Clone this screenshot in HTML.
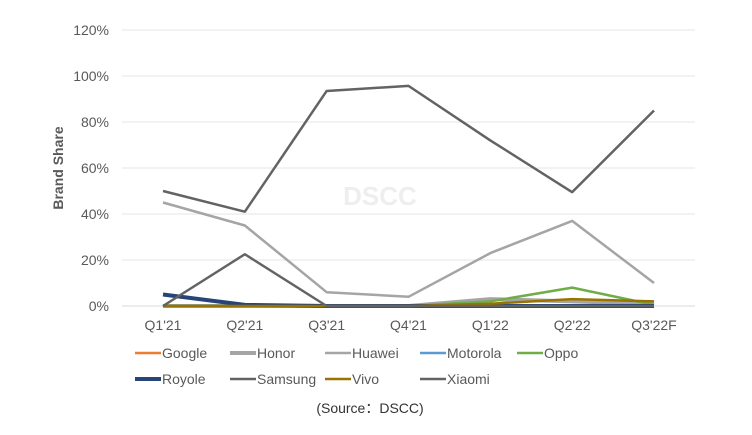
<!DOCTYPE html>
<html><head><meta charset="utf-8"><style>
body{margin:0;background:#fff;width:752px;height:430px;overflow:hidden;font-family:"Liberation Sans","Noto Sans CJK SC",sans-serif}
</style></head><body>
<svg width="752" height="430" xmlns="http://www.w3.org/2000/svg">
<text x="380" y="205" font-size="26" font-weight="bold" fill="#eeeeee" text-anchor="middle">DSCC</text>
<g id="grid"></g><g id="axes"></g><g id="lines"></g><g id="legend"></g>
<text transform="translate(63,168) rotate(-90)" font-size="14" font-weight="bold" fill="#595959" text-anchor="middle">Brand Share</text>
<text x="370" y="413" font-size="14" fill="#333" text-anchor="middle" font-family="Liberation Sans,'Noto Sans CJK SC',sans-serif">(Source：DSCC)</text>
</svg>
<script>
const categories=["Q1'21","Q2'21","Q3'21","Q4'21","Q1'22","Q2'22","Q3'22F"];
const yTicks=[0,20,40,60,80,100,120];
const seriesNames=["Google","Honor","Huawei","Motorola","Oppo","Royole","Samsung","Vivo","Xiaomi"];
const google=[0,0,0,0,0,0,0];
const honor=[0,0,0,0,3,2,1];
const huawei=[45,35,6,4,23,37,10];
const motorola=[0,0,0,0,0.3,0.3,0.3];
const oppo=[0,0,0,0,2,8,0.5];
const royole=[5,0.5,0,0,0,0,0];
const samsung=[50,41,93.5,95.7,72,49.5,85];
const vivo=[0,0,0,0,1,3,2];
const xiaomi=[0,22.5,0,0,0,0,0];
const colors=["#ED7D31","#A5A5A5","#A5A5A5","#5B9BD5","#70AD47","#264478","#636363","#997300","#636363"];
const widths=[2.5,4,2.5,2.5,2.5,4,2.5,2.5,2.5];
const allSeries=[google,honor,huawei,motorola,oppo,royole,samsung,vivo,xiaomi];
const NS="http://www.w3.org/2000/svg";
const x=i=>163+i*(654-163)/(categories.length-1);
const y=v=>306-v*(276/120);
function mk(t,a,p){const e=document.createElementNS(NS,t);for(const k in a)e.setAttribute(k,a[k]);p.appendChild(e);return e;}
const grid=document.getElementById('grid'),axes=document.getElementById('axes'),lines=document.getElementById('lines'),leg=document.getElementById('legend');
yTicks.forEach(t=>{
 const l=mk('line',{x1:122,x2:695,y1:y(t),y2:y(t),stroke:t===0?'#d9d9d9':'#e6e6e6','stroke-width':1},grid);
 
 
 const tx=mk('text',{x:109,y:y(t)+5,'font-size':14,fill:'#595959','text-anchor':'end'},axes);
 tx.textContent=t+'%';
 
 
});
categories.forEach((c,i)=>{
 const tx=mk('text',{x:x(i),y:330,'font-size':14,fill:'#595959','text-anchor':'middle'},axes);
 tx.textContent=c;
 
 
});
allSeries.forEach((s,k)=>{
 const pts=s.map((v,i)=>x(i)+','+y(v)).join(' ');
 const p=mk('polyline',{points:pts,fill:'none',stroke:colors[k],'stroke-width':widths[k],'stroke-linejoin':'round'},lines);
 
 
});
const lx=[135,230,325,420,517];
seriesNames.forEach((n,k)=>{
 const r=Math.floor(k/5),c=k%5,yy=353+r*26,xx=lx[c];
 const g=mk('g',{},leg);
 
 
 mk('line',{x1:xx,x2:xx+26,y1:yy,y2:yy,stroke:colors[k],'stroke-width':widths[k]},g);
 const t=mk('text',{x:xx+27,y:yy+5,'font-size':14,fill:'#595959'},g);
 t.textContent=n;
});
</script>
</body></html>
